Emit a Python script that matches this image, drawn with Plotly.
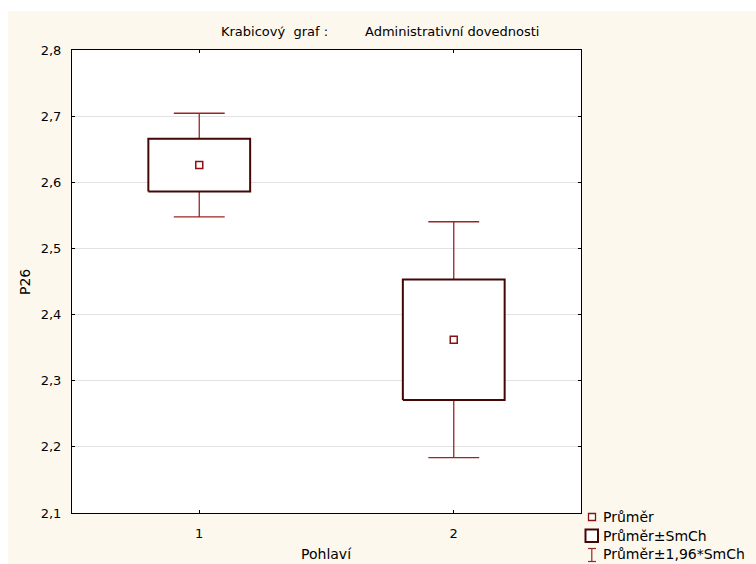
import plotly.graph_objects as go

# Box plot of mean, mean ± SE and mean ± 1.96*SE per group
categories = ["1", "2"]
means = [2.626, 2.362]
std_errors = [0.040, 0.091]
y_ticks = [2.1, 2.2, 2.3, 2.4, 2.5, 2.6, 2.7, 2.8]

FONT = "DejaVu Sans, Arial, sans-serif"
CREAM = "#FDF8EE"
BOX_LINE = "#450606"
WHISKER = "#9B2525"
MEAN_LINE = "#8B1010"

W, H = 756, 564
L, R, T, B = 72, 175, 50, 51
plot_w = W - L - R
plot_h = H - T - B


def px(x):
    return (x - L) / plot_w


def py(y):
    return (H - B - y) / plot_h


xs = list(range(1, len(categories) + 1))
box_half = 0.2
cap_half = 0.1

fig = go.Figure()

for x, m, se in zip(xs, means, std_errors):
    lo, hi = m - 1.96 * se, m + 1.96 * se
    # whisker stem and caps
    fig.add_trace(go.Scatter(
        x=[x, x, None, x - cap_half, x + cap_half, None, x - cap_half, x + cap_half],
        y=[lo, hi, None, hi, hi, None, lo, lo],
        mode="lines", line=dict(color=WHISKER, width=1.3),
        hoverinfo="skip", showlegend=False))
    # mean ± SE box
    fig.add_trace(go.Scatter(
        x=[x - box_half, x + box_half, x + box_half, x - box_half, x - box_half],
        y=[m - se, m - se, m + se, m + se, m - se],
        mode="lines", fill="toself", fillcolor="white",
        line=dict(color=BOX_LINE, width=2),
        hoverinfo="skip", showlegend=False))

fig.add_trace(go.Scatter(
    x=xs, y=means, mode="markers",
    marker=dict(symbol="square", size=7, color="white",
                line=dict(color=MEAN_LINE, width=1.5)),
    showlegend=False))

shapes = [
    # white strips along the top and left edge of the page
    dict(type="rect", xref="paper", yref="paper", x0=px(0), x1=px(W),
         y0=py(11), y1=py(0), fillcolor="white", line=dict(width=0), layer="below"),
    dict(type="rect", xref="paper", yref="paper", x0=px(0), x1=px(8),
         y0=py(H), y1=py(0), fillcolor="white", line=dict(width=0), layer="below"),
    # legend symbols
    dict(type="rect", xref="paper", yref="paper", x0=px(588.5), x1=px(595.5),
         y0=py(520.5), y1=py(513.5), fillcolor="white",
         line=dict(color=MEAN_LINE, width=1.3)),
    dict(type="rect", xref="paper", yref="paper", x0=px(585.5), x1=px(598),
         y0=py(542), y1=py(529.5), fillcolor="white",
         line=dict(color=BOX_LINE, width=2)),
    dict(type="line", xref="paper", yref="paper", x0=px(591.8), x1=px(591.8),
         y0=py(561.5), y1=py(548.5), line=dict(color=WHISKER, width=1.2)),
    dict(type="line", xref="paper", yref="paper", x0=px(588), x1=px(596),
         y0=py(548.5), y1=py(548.5), line=dict(color=WHISKER, width=1.2)),
    dict(type="line", xref="paper", yref="paper", x0=px(588), x1=px(596),
         y0=py(561.5), y1=py(561.5), line=dict(color=WHISKER, width=1.2)),
]


def label(text, x, y, size, anchor="left", angle=0):
    return dict(text=text, x=px(x), y=py(y), xanchor=anchor, yanchor="middle",
                showarrow=False, xref="paper", yref="paper", textangle=angle,
                borderpad=0, borderwidth=0, font=dict(size=size, color="black"))


annotations = [
    label("Krabicový\u00a0 graf :", 221, 31, 13),
    label("Administrativní dovednosti", 365, 31, 13),
    label("P26", 25, 282, 14, anchor="center", angle=-90),
    label("Pohlaví", 326, 554, 14, anchor="center"),
]
legend_items = ["Průměr", "Průměr±SmCh", "Průměr±1,96*SmCh"]
for text, yc in zip(legend_items, [516.7, 535.7, 554.0]):
    annotations.append(label(text, 603, yc, 14))

fig.update_layout(
    width=W, height=H,
    margin=dict(l=L, r=R, t=T, b=B),
    paper_bgcolor=CREAM, plot_bgcolor="white",
    font=dict(family=FONT, size=13, color="black"),
    shapes=shapes, annotations=annotations,
    showlegend=False,
    xaxis=dict(
        range=[0.5, len(categories) + 0.5],
        tickvals=xs, ticktext=categories,
        ticks="inside", ticklen=3, tickcolor="black",
        ticklabelstandoff=8,
        showline=True, linecolor="black", linewidth=1, mirror="ticks",
        showgrid=False, zeroline=False,
    ),
    yaxis=dict(
        range=[y_ticks[0], y_ticks[-1]],
        tickvals=y_ticks, ticktext=[f"{v:.1f}".replace(".", ",") for v in y_ticks],
        ticks="inside", ticklen=3, tickcolor="black",
        ticklabelstandoff=7,
        showline=True, linecolor="black", linewidth=1, mirror="ticks",
        showgrid=True, gridcolor="#E2E2E2", gridwidth=1, zeroline=False,
    ),
)

fig.write_html("out.html")
